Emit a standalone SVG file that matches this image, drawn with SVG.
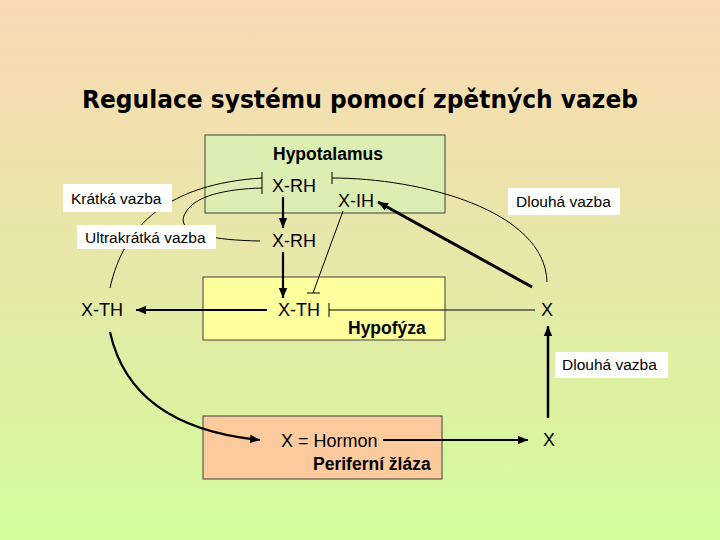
<svg xmlns="http://www.w3.org/2000/svg" width="720" height="540" viewBox="0 0 720 540">
<defs>
<linearGradient id="bg" x1="0" y1="0" x2="0" y2="1">
<stop offset="0" stop-color="#FCDAB4"/>
<stop offset="0.5" stop-color="#E6E8A8"/>
<stop offset="1" stop-color="#D2FC9A"/>
</linearGradient>
<marker id="ah" markerUnits="userSpaceOnUse" markerWidth="12" markerHeight="10" refX="10" refY="5" orient="auto">
<path d="M0,0.8 L10,5 L0,9.2 Z" fill="#000"/>
</marker>
</defs>
<style>
.box{stroke:#404040;stroke-width:1}
.lbl{fill:#fff}
.t{font-family:"Liberation Sans",Arial,sans-serif;font-size:18px;fill:#000}
.tb{font-family:"Liberation Sans",Arial,sans-serif;font-size:17.5px;font-weight:bold;fill:#000}
.ts{font-family:"Liberation Sans",Arial,sans-serif;font-size:15.5px;fill:#000}
.thin{fill:none;stroke:#000;stroke-width:1}
.thick{fill:none;stroke:#000;stroke-width:2.2}
.title{font-family:"Comic Sans MS","DejaVu Sans",sans-serif;font-size:25px;font-weight:bold;fill:#000}
</style>
<rect x="0" y="0" width="720" height="540" fill="url(#bg)"/>
<text class="title" x="82" y="108" textLength="556" lengthAdjust="spacingAndGlyphs">Regulace systému pomocí zpětných vazeb</text>

<g id="hypotalamus">
<rect class="box" x="205" y="135" width="240" height="78" fill="#DCEFB2"/>
<text class="tb" x="273" y="160">Hypotalamus</text>
</g>
<g id="hypofyza">
<rect class="box" x="203" y="277" width="242" height="63" fill="#FFFF9E"/>
<text class="tb" x="348" y="334">Hypofýza</text>
</g>
<g id="periferni-zlaza">
<rect class="box" x="203" y="416" width="239" height="63" fill="#FCCA9C"/>
<text class="tb" x="313" y="470">Periferní žláza</text>
</g>

<g id="connectors">
<!-- short feedback -->
<path class="thin" d="M110,288 C124,225 168,184 262,178"/>
<!-- ultrashort feedback -->
<path class="thin" d="M260,241 C200,240 174,230 186,212 C195,196 225,189 262,188"/>
<line class="thin" x1="262" y1="172" x2="262" y2="194"/>
<!-- long feedback top -->
<path class="thin" d="M332,178 C420,178 545,210 547,282"/>
<line class="thin" x1="332" y1="172" x2="332" y2="184"/>
<!-- X-IH inhibits X-TH -->
<line class="thin" x1="343" y1="211" x2="313" y2="293"/>
<line class="thin" x1="307" y1="293" x2="320" y2="293"/>
<!-- X to X-TH inhibition -->
<line class="thin" x1="329" y1="310" x2="535" y2="310"/>
<line class="thin" x1="329" y1="303" x2="329" y2="317"/>
<!-- cascade arrows -->
<line class="thick" x1="283" y1="197" x2="283" y2="228" marker-end="url(#ah)"/>
<line class="thick" x1="283" y1="252" x2="283" y2="298" marker-end="url(#ah)"/>
<line class="thick" x1="267" y1="310" x2="136" y2="310" marker-end="url(#ah)"/>
<path class="thick" d="M110,332 C125,400 180,432 260,440" marker-end="url(#ah)"/>
<line class="thick" x1="383" y1="440" x2="528" y2="440" marker-end="url(#ah)"/>
<line class="thick" x1="548" y1="418" x2="548" y2="326" marker-end="url(#ah)" style="stroke-width:2.5"/>
<line class="thick" x1="532" y1="287" x2="378" y2="202" marker-end="url(#ah)" style="stroke-width:3"/>
</g>

<g id="label-kratka">
<rect class="lbl" x="63" y="184" width="109" height="28"/>
<text class="ts" x="71" y="204">Krátká vazba</text>
</g>
<g id="label-ultrakratka">
<rect class="lbl" x="77" y="225" width="139" height="24"/>
<text class="ts" x="85" y="243">Ultrakrátká vazba</text>
</g>
<g id="label-dlouha1">
<rect class="lbl" x="508" y="188" width="112" height="27"/>
<text class="ts" x="516" y="207">Dlouhá vazba</text>
</g>
<g id="label-dlouha2">
<rect class="lbl" x="555" y="352" width="113" height="26"/>
<text class="ts" x="562" y="370">Dlouhá vazba</text>
</g>

<g id="x-rh-1"><text class="t" x="272" y="192">X-RH</text></g>
<g id="x-ih"><text class="t" x="338" y="207">X-IH</text></g>
<g id="x-rh-2"><text class="t" x="272" y="247">X-RH</text></g>
<g id="x-th-1"><text class="t" x="278" y="316">X-TH</text></g>
<g id="x-th-2"><text class="t" x="81" y="316">X-TH</text></g>
<g id="x-top"><text class="t" x="541" y="316">X</text></g>
<g id="x-bottom"><text class="t" x="543" y="446">X</text></g>
<g id="x-hormon"><text class="t" x="281" y="447">X = Hormon</text></g>
</svg>
